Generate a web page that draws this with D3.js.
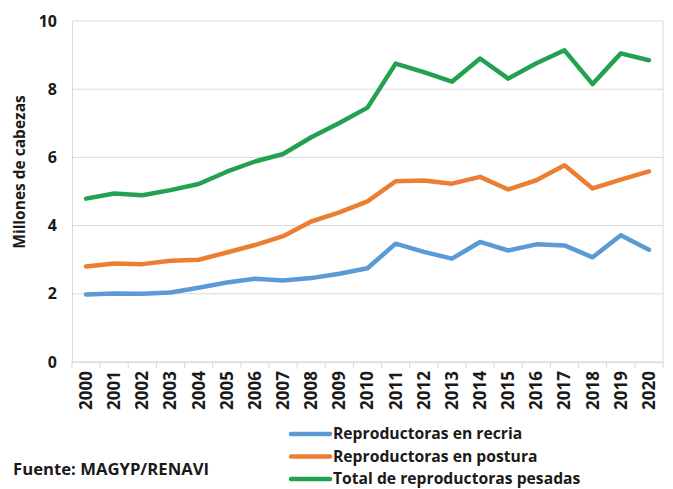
<!DOCTYPE html>
<html>
<head>
<meta charset="utf-8">
<script src="https://cdn.jsdelivr.net/npm/d3@7"></script>
<style>
body { margin: 0; background: #fff; }
text { font-family: "Open Sans", "Liberation Sans", sans-serif; font-weight: bold; fill: #1a1a1a; }
</style>
</head>
<body>
<div id="viz"></div>
<script>
// data (millones de cabezas)
var years = ["2000","2001","2002","2003","2004","2005","2006","2007","2008","2009","2010",
             "2011","2012","2013","2014","2015","2016","2017","2018","2019","2020"];
var recria  = [1.98,2.01,2.00,2.04,2.18,2.33,2.44,2.39,2.46,2.59,2.75,3.47,3.23,3.03,3.52,3.27,3.45,3.42,3.07,3.72,3.29];
var postura = [2.80,2.89,2.87,2.97,3.00,3.21,3.43,3.69,4.12,4.39,4.71,5.30,5.32,5.23,5.43,5.06,5.33,5.77,5.09,5.35,5.59];
var total   = [4.79,4.94,4.89,5.04,5.22,5.58,5.88,6.10,6.59,7.01,7.46,8.75,8.50,8.22,8.90,8.31,8.76,9.14,8.15,9.05,8.85];
var yTicks = [0, 2, 4, 6, 8, 10];

var series = [
  { name: "Reproductoras en recria", values: recria, color: "#5b9bd5" },
  { name: "Reproductoras en postura", values: postura, color: "#ed7d31" },
  { name: "Total de reproductoras pesadas", values: total, color: "#22a150" }
];

var W = 673, H = 489;
// plot box (note: "top" is taken by window.top)
var pL = 72, pR = 663, pT = 21, pB = 362;

var svg = d3.select("#viz").append("svg").attr("width", W).attr("height", H);

var x = d3.scaleBand().domain(years).range([pL, pR]);
var y = d3.scaleLinear().domain([0, 10]).range([pB, pT]);

// gridlines
svg.append("g").selectAll("line").data(yTicks).enter().append("line")
  .attr("x1", pL).attr("x2", pR)
  .attr("y1", function(d) { return y(d); }).attr("y2", function(d) { return y(d); })
  .style("stroke", "#d9d9d9").style("stroke-width", 1);

// right border
svg.append("line").attr("x1", pR).attr("x2", pR).attr("y1", pT).attr("y2", pB)
  .style("stroke", "#d9d9d9");

// y axis
var yAxis = svg.append("g").attr("transform", "translate(" + pL + ",0)")
  .call(d3.axisLeft(y).tickValues(yTicks).tickSize(0).tickPadding(15));
yAxis.select(".domain").style("stroke", "#d9d9d9");
yAxis.selectAll("text").style("font-size", "16px").style("font-family", null);

// x axis with ticks between categories
var xAxis = svg.append("g").attr("transform", "translate(0," + pB + ")")
  .call(d3.axisBottom(x).tickSize(0).tickPadding(0));
xAxis.select(".domain").style("stroke", "#d9d9d9");
xAxis.selectAll("text")
  .style("font-size", "17px").style("font-family", null)
  .attr("transform", "rotate(-90)")
  .attr("x", -9).attr("y", 0).attr("dy", "0.35em")
  .style("text-anchor", "end");
var bounds = years.map(function(d) { return x(d); }).concat([pR]);
svg.append("g").selectAll("line").data(bounds).enter().append("line")
  .attr("x1", function(d) { return d; }).attr("x2", function(d) { return d; })
  .attr("y1", pB).attr("y2", pB + 6)
  .style("stroke", "#d9d9d9");

// lines
var line = d3.line()
  .x(function(d, i) { return x(years[i]) + x.bandwidth() / 2; })
  .y(function(d) { return y(d); });

series.forEach(function(s) {
  svg.append("path").datum(s.values)
    .attr("d", line)
    .style("fill", "none")
    .style("stroke", s.color)
    .style("stroke-width", 4.5)
    .style("stroke-linejoin", "round")
    .style("stroke-linecap", "round");
});

// y axis title
svg.append("text")
  .attr("transform", "translate(20,172) rotate(-90)")
  .attr("dy", "0.35em")
  .style("text-anchor", "middle")
  .style("font-size", "15.5px")
  .text("Millones de cabezas");

// legend
var legend = svg.append("g");
series.forEach(function(s, i) {
  var ly = 434 + i * 22.5;
  legend.append("line")
    .attr("x1", 291).attr("x2", 330).attr("y1", ly).attr("y2", ly)
    .style("stroke", s.color).style("stroke-width", 4.5).style("stroke-linecap", "round");
  legend.append("text")
    .attr("x", 333).attr("y", ly).attr("dy", "0.35em")
    .style("font-size", "15.7px")
    .text(s.name);
});

// source
svg.append("text")
  .attr("x", 13).attr("y", 469).attr("dy", "0.35em")
  .style("font-size", "16.7px")
  .text("Fuente: MAGYP/RENAVI");
</script>
</body>
</html>
